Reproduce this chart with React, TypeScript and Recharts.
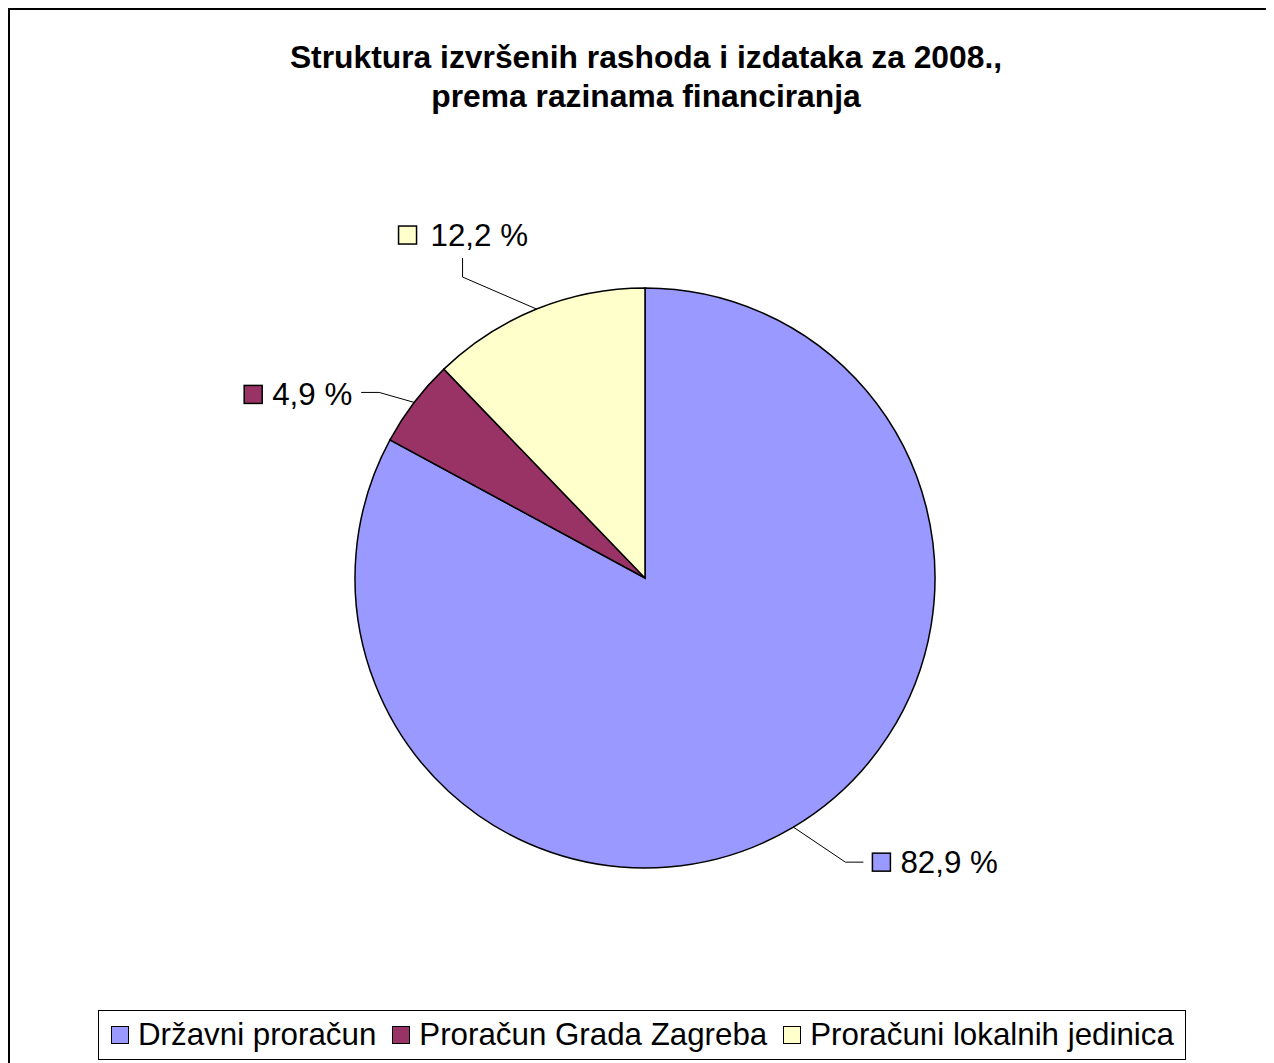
import { PieChart, Pie, Cell, Legend } from 'recharts';

const categories = ['Državni proračun', 'Proračun Grada Zagreba', 'Proračuni lokalnih jedinica'];
const shares = [82.9, 4.9, 12.2];
const colors = ['#9999FF', '#993366', '#FFFFCC'];

const data = categories.map((name, i) => ({ name, value: shares[i] }));

const FONT = '"Liberation Sans", Arial, sans-serif';
const RAD = Math.PI / 180;

// leader line per slice: offsets from the rim point, then label placement from the line end
const LEADERS = [
  { elbow: [52, 35], end: [70, 35], sq: 9, tx: 37, dy: 0 },
  { elbow: [-35, -10], end: [-53, -10], sq: -117, tx: -89, dy: 2 },
  { elbow: [-74, -32], end: [-74, -51], sq: -64, tx: -32, dy: -23 },
];

const fmt = (v: number) => `${v.toFixed(1).replace('.', ',')} %`;

function renderLabel(props: any) {
  const { cx, cy, midAngle, outerRadius, index, value } = props;
  const L = LEADERS[index];
  const a = -midAngle * RAD;
  const x0 = cx + outerRadius * Math.cos(a);
  const y0 = cy + outerRadius * Math.sin(a);
  const x1 = x0 + L.elbow[0];
  const y1 = y0 + L.elbow[1];
  const x2 = x0 + L.end[0];
  const y2 = y0 + L.end[1];
  const my = y2 + L.dy;
  return (
    <g key={`lbl-${index}`}>
      <polyline points={`${x0},${y0} ${x1},${y1} ${x2},${y2}`} fill="none" stroke="#000" strokeWidth={1} />
      <rect x={x2 + L.sq} y={my - 9} width={18} height={18} fill={colors[index]} stroke="#000" strokeWidth={1.5} />
      <text x={x2 + L.tx} y={my + 11} fontSize={31.3} fontFamily={FONT} fill="#000">
        {fmt(value)}
      </text>
    </g>
  );
}

function LegendBox() {
  return (
    <div
      style={{
        display: 'flex',
        alignItems: 'center',
        height: 48,
        border: '1px solid #000',
        background: '#fff',
        padding: '0 11px 0 12px',
        fontFamily: FONT,
        fontSize: 31.3,
        color: '#000',
        whiteSpace: 'nowrap',
      }}
    >
      {categories.map((c, i) => (
        <div key={c} style={{ display: 'flex', alignItems: 'center', marginLeft: i === 0 ? 0 : 16 }}>
          <span
            style={{
              display: 'inline-block',
              width: 16,
              height: 16,
              background: colors[i],
              border: '1.5px solid #000',
              marginRight: 9,
            }}
          />
          <span>{c}</span>
        </div>
      ))}
    </div>
  );
}

export default function App() {
  return (
    <div style={{ position: 'relative', width: 1266, height: 1055, overflow: 'hidden', background: '#fff' }}>
      <div
        style={{
          position: 'absolute',
          left: 0,
          top: 0,
          right: 0,
          bottom: 0,
          borderTop: '2px solid #000',
          borderLeft: '2px solid #000',
          pointerEvents: 'none',
          zIndex: 2,
        }}
      />
      <div
        style={{
          position: 'absolute',
          top: 30,
          left: 0,
          width: 1276,
          textAlign: 'center',
          fontFamily: FONT,
          fontWeight: 'bold',
          fontSize: 31.8,
          lineHeight: '39px',
          color: '#000',
        }}
      >
        Struktura izvršenih rashoda i izdataka za 2008.,
        <br />
        prema razinama financiranja
      </div>
      <PieChart width={1266} height={1055} margin={{ top: 0, right: 0, bottom: 0, left: 0 }}>
        <Pie
          data={data}
          dataKey="value"
          nameKey="name"
          cx={637}
          cy={570}
          outerRadius={290}
          startAngle={90}
          endAngle={-270}
          stroke="#000"
          strokeWidth={1.5}
          label={renderLabel}
          labelLine={false}
          isAnimationActive={false}
        >
          {data.map((d, i) => (
            <Cell key={d.name} fill={colors[i]} />
          ))}
        </Pie>
        <Legend
          content={<LegendBox />}
          wrapperStyle={{ position: 'absolute', left: 90, top: 1002, width: 'auto' }}
        />
      </PieChart>
    </div>
  );
}
